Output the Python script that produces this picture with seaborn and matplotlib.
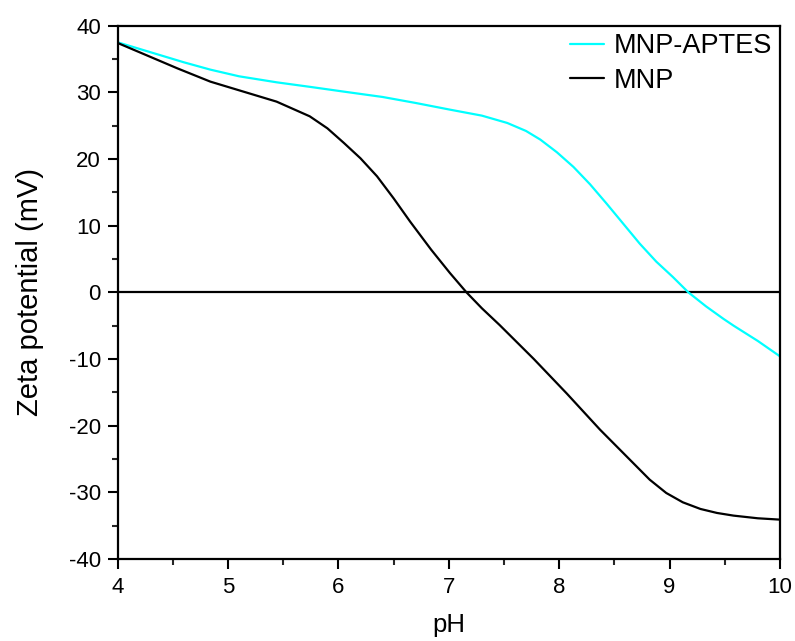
import matplotlib
matplotlib.use('Agg')
import matplotlib.pyplot as plt
import pandas as pd
import seaborn as sns
from matplotlib.ticker import MultipleLocator

# values
ph_aptes = [4.0, 4.3, 4.6, 4.84, 5.1, 5.44, 5.75, 6.05, 6.4, 6.7, 7.01, 7.3, 7.53, 7.7, 7.83,
            7.98, 8.13, 8.28, 8.43, 8.58, 8.73, 8.88, 9.03, 9.17, 9.33, 9.49, 9.58, 9.8, 10.0]
zeta_aptes = [37.5, 36.0, 34.5, 33.4, 32.4, 31.5, 30.8, 30.1, 29.3, 28.4, 27.4, 26.5, 25.4, 24.2, 22.9,
              21.0, 18.8, 16.2, 13.3, 10.3, 7.3, 4.6, 2.3, 0.0, -2.1, -4.0, -5.0, -7.3, -9.6]

ph_mnp = [4.0, 4.27, 4.54, 4.84, 5.14, 5.44, 5.74, 5.9, 6.05, 6.2, 6.35, 6.5, 6.65, 6.84, 7.01,
          7.16, 7.3, 7.46, 7.77, 8.07, 8.37, 8.67, 8.82, 8.97, 9.12, 9.28, 9.43, 9.58, 9.8, 10.0]
zeta_mnp = [37.4, 35.5, 33.6, 31.6, 30.1, 28.6, 26.4, 24.6, 22.4, 20.1, 17.4, 14.1, 10.6, 6.4, 2.9,
            0.0, -2.4, -4.9, -10.0, -15.2, -20.6, -25.6, -28.1, -30.1, -31.5, -32.5, -33.1, -33.5, -33.9, -34.1]

df = pd.concat([
    pd.DataFrame({'pH': ph_aptes, 'zeta': zeta_aptes, 'sample': 'MNP-APTES'}),
    pd.DataFrame({'pH': ph_mnp, 'zeta': zeta_mnp, 'sample': 'MNP'}),
])

sns.set_style('ticks')
plt.rcParams['font.family'] = ['Liberation Sans', 'DejaVu Sans']
plt.rcParams['axes.unicode_minus'] = False
plt.rcParams['text.color'] = 'black'
plt.rcParams['axes.labelcolor'] = 'black'

fig, ax = plt.subplots(figsize=(7.95, 6.41), dpi=100)
fig.subplots_adjust(left=0.148, right=0.981, top=0.960, bottom=0.128)

sns.lineplot(data=df, x='pH', y='zeta', hue='sample', palette={'MNP-APTES': '#00ffff', 'MNP': 'black'},
             linewidth=1.6, ax=ax, sort=False)
ax.axhline(0, color='black', linewidth=1.6, zorder=1)

ax.set_xlim(4, 10)
ax.set_ylim(-40, 40)
ax.xaxis.set_major_locator(MultipleLocator(1))
ax.xaxis.set_minor_locator(MultipleLocator(0.5))
ax.yaxis.set_major_locator(MultipleLocator(10))
ax.yaxis.set_minor_locator(MultipleLocator(5))
ax.tick_params(which='major', direction='out', length=7, width=1.5, labelsize=16, colors='black')
ax.tick_params(axis='x', which='major', pad=6)
ax.tick_params(axis='y', which='major', pad=5)
ax.tick_params(which='minor', direction='out', length=4, width=1.5)
for s in ax.spines.values():
    s.set_linewidth(1.6)
    s.set_color('black')

ax.set_xlabel('pH', fontsize=18.5, labelpad=11)
ax.set_ylabel('Zeta potential (mV)', fontsize=21, labelpad=18)

leg = ax.legend(title=None, loc='upper right', frameon=False, fontsize=19.5, borderaxespad=0.0,
                handlelength=1.25, handletextpad=0.37, labelspacing=0.32, borderpad=0.28)

fig.savefig('out.png', dpi=100)
